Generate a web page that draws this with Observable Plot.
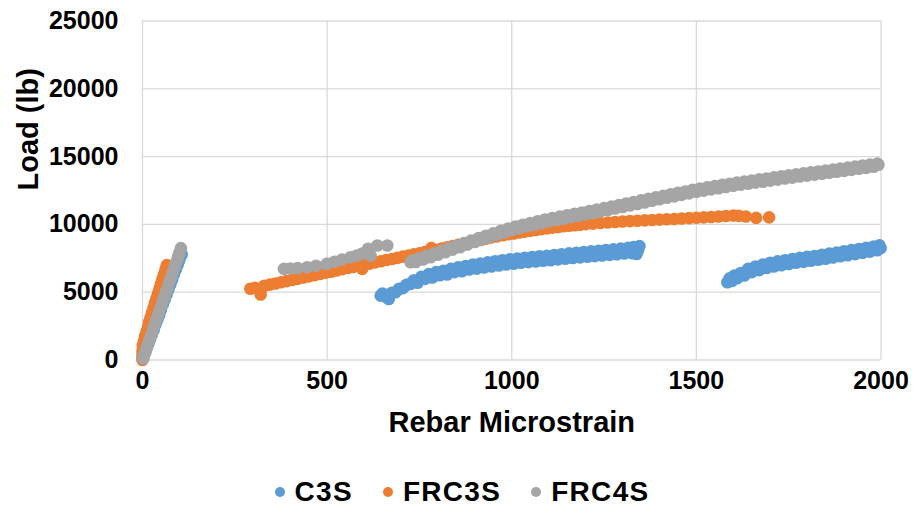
<!DOCTYPE html>
<html>
<head>
<meta charset="utf-8">
<script src="https://cdn.jsdelivr.net/npm/d3@7"></script>
<script src="https://cdn.jsdelivr.net/npm/@observablehq/plot@0.6"></script>
<style>
  body { margin: 0; background: #fff; font-family: "Liberation Sans", Arial, sans-serif; }
  #chart svg { display: block; }
  .legend { height: 44px; display: flex; justify-content: center; align-items: center; padding-left: 8px; }
  .legend-item { display: flex; align-items: center; margin: 0 15px; }
  .legend-swatch { width: 10px; height: 10px; border-radius: 50%; margin-right: 10px; }
  .legend-label { font-size: 28px; font-weight: bold; letter-spacing: 1.3px; color: #000; }
</style>
</head>
<body>
<div id="chart"></div>
<script>
// Series names and colours
const seriesNames = ["C3S", "FRC3S", "FRC4S"];
const seriesColors = ["#5B9BD5", "#ED7D31", "#A5A5A5"];

// Axis ticks
const xTicks = [0, 500, 1000, 1500, 2000];
const yTicks = [0, 5000, 10000, 15000, 20000, 25000];

// C3S: rebar microstrain and load (lb)
const c3sStrain = [
  0, 4, 8, 12, 16, 20, 25, 30, 35, 40, 45, 50, 55, 60, 65, 70, 75, 80, 85, 90, 95, 99, 103, 106,
  645, 650, 660, 667, 675, 685, 695, 705, 715, 725, 735, 745, 755, 765, 775, 785, 795, 805, 815,
  825, 835, 845, 855, 865, 875, 885, 895, 905, 915, 925, 935, 945, 955, 965, 975, 985, 995, 1005,
  1015, 1025, 1035, 1045, 1055, 1065, 1075, 1085, 1095, 1105, 1115, 1125, 1135, 1145, 1155, 1165,
  1175, 1185, 1195, 1205, 1215, 1225, 1235, 1245, 1255, 1265, 1275, 1285, 1295, 1305, 1315, 1325,
  1330, 1338, 1342, 1346,
  1584, 1590, 1596, 1603, 1610, 1620, 1630, 1640, 1650, 1660, 1670, 1680, 1690, 1700, 1710, 1720,
  1730, 1740, 1750, 1760, 1770, 1780, 1790, 1800, 1810, 1820, 1830, 1840, 1850, 1860, 1870, 1880,
  1890, 1900, 1910, 1920, 1930, 1940, 1950, 1960, 1970, 1980, 1990, 1996, 1999
];
const c3sLoad = [
  100, 350, 600, 900, 1200, 1500, 1850, 2200, 2600, 2950, 3300, 3700, 4100, 4450, 4800, 5200, 5550, 5900, 6300, 6650, 7000, 7300, 7650, 7800,
  4750, 4900, 4650, 4500, 4950, 5000, 5250, 5300, 5550, 5600, 5880, 5700, 6130, 5980, 6330, 6080, 6480, 6250, 6580,
  6300, 6720, 6480, 6840, 6540, 6930, 6670, 7040, 6740, 7120, 6820, 7200, 6900, 7280, 6970, 7360, 7040, 7430, 7100,
  7480, 7170, 7540, 7220, 7600, 7260, 7650, 7320, 7690, 7360, 7740, 7420, 7800, 7470, 7860, 7520,
  7910, 7570, 7960, 7620, 8010, 7660, 8060, 7710, 8110, 7750, 8160, 7800, 8210, 7850, 8270, 7880,
  8330, 7820, 8100, 8400,
  5730, 6020, 5830, 6220, 6030, 6420, 6230, 6720, 6480, 6890, 6630, 7040, 6780, 7170, 6890, 7270,
  6990, 7360, 7080, 7450, 7170, 7530, 7250, 7610, 7320, 7670, 7390, 7760, 7470, 7850, 7560, 7930,
  7650, 8020, 7730, 8110, 7810, 8190, 7900, 8280, 7990, 8370, 8090, 8450, 8250
];

// FRC3S: rebar microstrain and load (lb)
const frc3sStrain = [
  0, 0, 0, 1, 1, 4, 7, 11, 15, 18, 22, 26, 30, 34, 38, 42, 46, 50, 54, 58, 62, 66,
  292, 305, 320, 330, 345, 360, 375, 390, 405, 420, 435, 450, 465, 480, 495, 510, 525, 540, 555,
  570, 585, 595, 600, 615, 630, 645, 660, 675, 690, 705, 720, 735, 750, 765, 780, 782, 795, 810,
  825, 840, 855, 870, 885, 900, 915, 930, 945, 960, 975, 990, 1005, 1020, 1035, 1050, 1065, 1080,
  1095, 1110, 1125, 1140, 1155, 1170, 1185, 1200, 1220, 1240, 1260, 1280, 1300, 1320, 1340, 1360,
  1380, 1400, 1420, 1440, 1460, 1480, 1500, 1520, 1540, 1560, 1580, 1600, 1615, 1634, 1662, 1697
];
const frc3sLoad = [
  0, 300, 600, 900, 1100, 1400, 1750, 2100, 2450, 2800, 3150, 3500, 3850, 4200, 4550, 4900, 5250, 5600, 5950, 6300, 6650, 7000,
  5250, 5330, 4830, 5470, 5560, 5640, 5730, 5820, 5900, 5990, 6080, 6170, 6250, 6340, 6430, 6510, 6600, 6690, 6780,
  6860, 6950, 6720, 7030, 7110, 7200, 7280, 7370, 7450, 7530, 7620, 7700, 7790, 7870, 7960, 8050, 8250, 8130, 8220,
  8310, 8400, 8490, 8580, 8670, 8760, 8850, 8950, 9040, 9120, 9200, 9270, 9330, 9400, 9470, 9530, 9590, 9650,
  9710, 9760, 9810, 9860, 9900, 9940, 9980, 10020, 10060, 10100, 10140, 10180, 10210, 10240, 10270, 10300,
  10320, 10350, 10380, 10400, 10430, 10460, 10490, 10520, 10550, 10580, 10620, 10650, 10630, 10580, 10480, 10520
];

// FRC4S: rebar microstrain and load (lb)
const frc4sStrain = [
  2, 4, 7, 10, 13, 17, 21, 25, 29, 33, 37, 42, 46, 51, 55, 60, 64, 69, 73, 78, 82, 86, 90, 94, 97, 100, 104,
  383, 400, 420, 446, 470, 499, 520, 540, 563, 580, 595, 611, 618, 636, 663,
  726, 730, 740, 750, 760, 770, 780, 790, 800, 810, 820, 830, 840, 850, 860, 870, 880, 890, 900,
  910, 920, 930, 940, 950, 960, 970, 980, 990, 1000, 1010, 1020, 1030, 1040, 1050, 1060, 1070, 1080,
  1090, 1100, 1110, 1120, 1130, 1140, 1150, 1160, 1170, 1180, 1190, 1200, 1210, 1220, 1230, 1240,
  1250, 1260, 1270, 1280, 1290, 1300, 1310, 1320, 1330, 1340, 1350, 1360, 1370, 1380, 1390, 1400,
  1410, 1420, 1430, 1440, 1450, 1460, 1470, 1480, 1490, 1500, 1510, 1520, 1530, 1540, 1550, 1560,
  1570, 1580, 1590, 1600, 1610, 1620, 1630, 1640, 1650, 1660, 1670, 1680, 1690, 1700, 1710, 1720,
  1730, 1740, 1750, 1760, 1770, 1780, 1790, 1800, 1810, 1820, 1830, 1840, 1850, 1860, 1870, 1880,
  1890, 1900, 1910, 1920, 1930, 1940, 1950, 1960, 1970, 1980, 1990, 1993
];
const frc4sLoad = [
  100, 300, 550, 800, 1050, 1350, 1650, 1950, 2300, 2600, 2950, 3300, 3650, 4000, 4350, 4700, 5050, 5400, 5750, 6100, 6450, 6800, 7100, 7400, 7650, 7900, 8250,
  6720, 6750, 6780, 6840, 6950, 7090, 7250, 7400, 7580, 7700, 7850, 8200, 7700, 8440, 8440,
  7210, 7340, 7230, 7520, 7410, 7700, 7580, 7870, 7760, 8050, 7950, 8240, 8140, 8430, 8320, 8620, 8510, 8810, 8700,
  8990, 8880, 9160, 9050, 9340, 9230, 9520, 9400, 9690, 9580, 9840, 9710, 9970, 9840, 10100, 9960, 10230, 10090,
  10360, 10220, 10470, 10320, 10570, 10420, 10680, 10530, 10780, 10630, 10880, 10730, 10990, 10840, 11100, 10950,
  11200, 11060, 11320, 11170, 11430, 11280, 11540, 11390, 11650, 11510, 11770, 11620, 11880, 11740, 11990, 11850,
  12100, 11960, 12220, 12070, 12330, 12180, 12430, 12290, 12550, 12400, 12650, 12490, 12740, 12580, 12830, 12670,
  12920, 12760, 13000, 12850, 13090, 12930, 13160, 13000, 13240, 13080, 13320, 13150, 13390, 13230, 13470, 13300,
  13540, 13380, 13620, 13450, 13690, 13530, 13760, 13600, 13840, 13670, 13900, 13740, 13980, 13810, 14040, 13880,
  14120, 13950, 14190, 14020, 14260, 14100, 14340, 14170, 14410, 14250, 14480, 14400
];

// Long-format rows, drawn in series order so FRC4S sits on top
const strainBySeries = [c3sStrain, frc3sStrain, frc4sStrain];
const loadBySeries = [c3sLoad, frc3sLoad, frc4sLoad];
const rows = seriesNames.flatMap((name, i) =>
  strainBySeries[i].map((s, j) => ({series: name, strain: s, load: loadBySeries[i][j]}))
);

const fontFamily = '"Liberation Sans", Arial, sans-serif';
const gridStyle = {stroke: "#d9d9d9", strokeOpacity: 1, strokeWidth: 1.3};

const chart = Plot.plot({
  width: 916,
  height: 470,
  marginLeft: 142,
  marginRight: 35.5,
  marginTop: 20.5,
  marginBottom: 110.5,
  style: {fontFamily, fontWeight: "bold", color: "#000", background: "#fff"},
  x: {domain: [0, 2000]},
  y: {domain: [0, 25000]},
  color: {domain: seriesNames, range: seriesColors},
  marks: [
    Plot.gridX(xTicks, gridStyle),
    Plot.gridY(yTicks, gridStyle),
    Plot.axisX(xTicks, {tickSize: 0, tickPadding: 11, fontSize: 25, label: null,
      tickFormat: d => String(d)}),
    Plot.axisY(yTicks, {tickSize: 0, tickPadding: 24, fontSize: 25, label: null,
      tickFormat: d => String(d)}),
    Plot.dot(rows, {x: "strain", y: "load", fill: "series", r: 6.3, stroke: null}),
    Plot.text(["Rebar Microstrain"], {frameAnchor: "bottom", dy: 72, fontSize: 29,
      fontWeight: "bold", fill: "#000", style: {letterSpacing: "1.5px"}}),
    Plot.text(["Load (lb)"], {frameAnchor: "left", dx: -114, rotate: -90, fontSize: 29,
      fontWeight: "bold", fill: "#000", style: {letterSpacing: "1px"}})
  ]
});

const container = document.getElementById("chart");
container.appendChild(chart);

// Legend below the plot
const legend = document.createElement("div");
legend.className = "legend";
seriesNames.forEach((name, i) => {
  const item = document.createElement("div");
  item.className = "legend-item";
  const sw = document.createElement("span");
  sw.className = "legend-swatch";
  sw.style.background = seriesColors[i];
  const lab = document.createElement("span");
  lab.className = "legend-label";
  lab.textContent = name;
  item.appendChild(sw);
  item.appendChild(lab);
  legend.appendChild(item);
});
container.appendChild(legend);
</script>
</body>
</html>
